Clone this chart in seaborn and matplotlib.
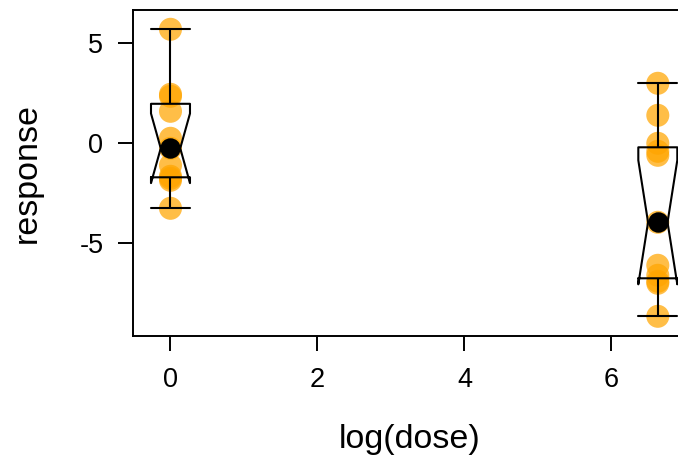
import numpy as np
import pandas as pd
import matplotlib
matplotlib.use("Agg")
import matplotlib.pyplot as plt
import seaborn as sns

# ---- data ----
log_dose_low = 0.0
log_dose_high = 6.63
response_low = [5.7, 2.45, 2.35, 1.6, 0.25, -0.25, -1.1, -1.65, -1.75, -1.85, -3.25]
response_high = [3.0, 1.4, 0.0, -0.4, -0.6, -3.95, -6.1, -6.6, -6.9, -7.0, -8.65]
x_ticks = [0, 2, 4, 6]
y_ticks = [-5, 0, 5]

df = pd.DataFrame({
    "logdose": [log_dose_low] * len(response_low) + [log_dose_high] * len(response_high),
    "response": response_low + response_high,
})

sns.set_style("ticks")
plt.rcParams["font.family"] = ["Liberation Sans", "DejaVu Sans"]
plt.rcParams["text.color"] = "black"
plt.rcParams["axes.labelcolor"] = "black"

fig = plt.figure(figsize=(6.78, 4.57), dpi=100)
ax = fig.add_axes([133.3 / 678, 1 - 336 / 457, (685 - 133.3) / 678, (336 - 10) / 457])

sns.scatterplot(data=df, x="logdose", y="response", color="#FFA500", alpha=0.72,
                s=275, edgecolor="none", linewidth=0, ax=ax, zorder=1, legend=False)

sns.boxplot(data=df, x="logdose", y="response", orient="x", native_scale=True,
            notch=True, fill=False, color="black", linecolor="black", width=0.08,
            showfliers=False, whis=1.5, linewidth=1.5, capwidths=0.53,
            medianprops=dict(linewidth=0), ax=ax)

sns.pointplot(data=df, x="logdose", y="response", estimator="median", errorbar=None,
              native_scale=True, color="black", marker="o", linestyle="none",
              markersize=12.7, ax=ax, zorder=5)

ax.set_xlim(-0.506, 7.0)
ax.set_ylim(-9.635, 6.665)
ax.set_xticks(x_ticks)
ax.set_xticklabels([str(t) for t in x_ticks])
ax.set_yticks(y_ticks)
ax.set_yticklabels([str(t) for t in y_ticks])

for s in ax.spines.values():
    s.set_visible(True)
    s.set_linewidth(1.4)
    s.set_color("black")

ax.tick_params(axis="both", direction="out", length=10.5, width=1.4, colors="black",
               labelsize=19.5)
ax.tick_params(axis="x", pad=12)
ax.tick_params(axis="y", pad=11)

ax.set_xlabel("log(dose)", fontsize=24.5, color="black")
ax.set_ylabel("response", fontsize=24.5, color="black")
ax.xaxis.set_label_coords(0.5, -0.27)
ax.yaxis.set_label_coords(-0.164, 0.5)

fig.savefig("out.png", dpi=100)
